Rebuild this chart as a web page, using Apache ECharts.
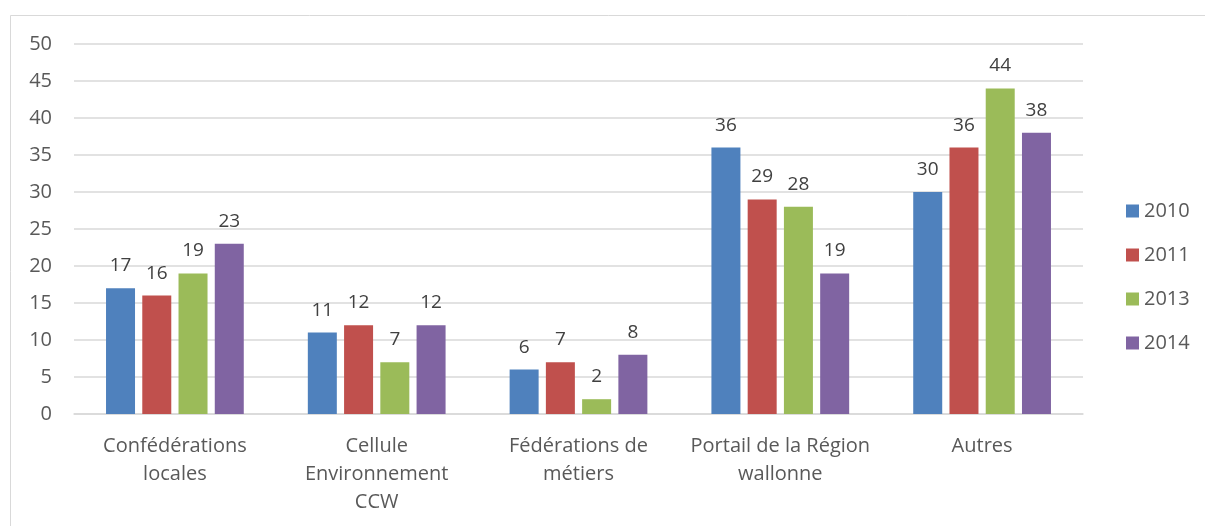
<!DOCTYPE html>
<html>
<head>
<meta charset="utf-8">
<script src="https://cdn.jsdelivr.net/npm/echarts@6/dist/echarts.min.js"></script>
<style>
  html, body { margin: 0; padding: 0; background: #fff; }
  #main { width: 1205px; height: 526px; }
</style>
</head>
<body>
<div id="main"></div>
<script type="text/javascript">
    var categories = ['Confédérations\nlocales', 'Cellule\nEnvironnement\nCCW', 'Fédérations de\nmétiers', 'Portail de la Région\nwallonne', 'Autres'];
    var years = ['2010', '2011', '2013', '2014'];
    var v2010 = [17, 11, 6, 36, 30];
    var v2011 = [16, 12, 7, 29, 36];
    var v2013 = [19, 7, 2, 28, 44];
    var v2014 = [23, 12, 8, 19, 38];
    var yTicks = [0, 5, 10, 15, 20, 25, 30, 35, 40, 45, 50];

    var colors = ['#4F81BD', '#C0504D', '#9BBB59', '#8064A2'];
    var fontFam = '"Open Sans", "Liberation Sans", sans-serif';
    var values = [v2010, v2011, v2013, v2014];

    var myChart = echarts.init(document.getElementById('main'));
    var seriesData = [];
    for (var i = 0; i < years.length; i++) {
        seriesData.push({
            name: years[i],
            type: 'bar',
            barWidth: 29,
            barGap: '25%',
            itemStyle: { color: colors[i] },
            label: {
                show: true, position: 'top', distance: 13,
                color: '#404040', fontSize: 19, fontFamily: fontFam
            },
            data: values[i]
        });
    }

    var option = {
        backgroundColor: '#fff',
        color: colors,
        animation: false,
        graphic: [{
            type: 'rect',
            shape: { x: 10.5, y: 15.5, width: 1220, height: 540 },
            style: { fill: 'none', stroke: '#d9d9d9', lineWidth: 1 },
            silent: true, z: -1
        }],
        legend: {
            orient: 'vertical', left: 1121, top: 196,
            itemWidth: 13, itemHeight: 13, itemGap: 24,
            icon: 'rect',
            textStyle: { color: '#595959', fontSize: 20, fontFamily: fontFam },
            data: years
        },
        grid: { left: 74, right: 122, top: 44, bottom: 112 },
        xAxis: {
            type: 'category',
            data: categories,
            axisLine: { show: true, lineStyle: { color: '#d9d9d9', width: 1.5 } },
            axisTick: { show: false },
            axisLabel: {
                interval: 0, margin: 18, lineHeight: 28,
                color: '#595959', fontSize: 20, fontFamily: fontFam
            }
        },
        yAxis: {
            type: 'value',
            min: yTicks[0], max: yTicks[yTicks.length - 1], interval: 5,
            axisLine: { show: false },
            axisTick: { show: false },
            splitLine: { lineStyle: { color: '#d9d9d9', width: 1.5 } },
            axisLabel: { margin: 22, color: '#595959', fontSize: 20, fontFamily: fontFam }
        },
        series: seriesData
    };
    myChart.setOption(option);
</script>
</body>
</html>
